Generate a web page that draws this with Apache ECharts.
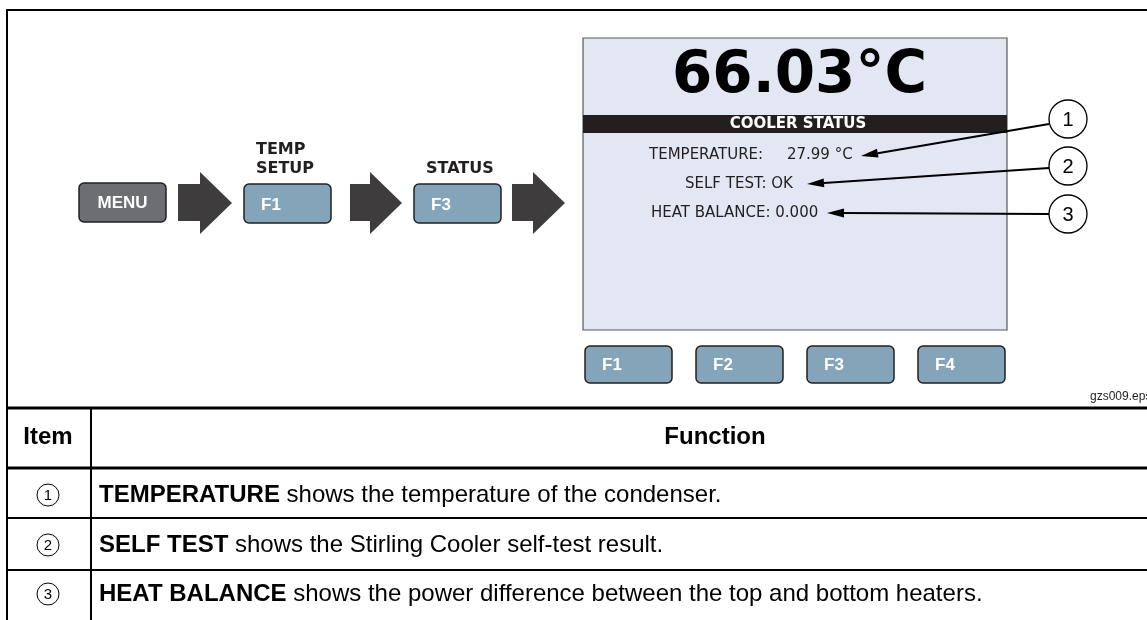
<!DOCTYPE html>
<html>
<head>
<meta charset="utf-8">
<script src="https://cdn.jsdelivr.net/npm/echarts@6/dist/echarts.min.js"></script>
<style>html,body{margin:0;padding:0;background:#fff}#c{width:1147px;height:620px}</style>
</head>
<body>
<div id="c"></div>
<script>
// ---- content (text data) ----
const stepLabels = ['MENU', 'F1', 'F3'];
const stepCaptions = [[], ['TEMP', 'SETUP'], ['STATUS']];
const softKeys = ['F1', 'F2', 'F3', 'F4'];
const displayReading = '66.03°C';
const displayTitle = 'COOLER STATUS';
const displayLines = ['TEMPERATURE:     27.99 °C', 'SELF TEST: OK', 'HEAT BALANCE: 0.000'];
const calloutNumbers = ['1', '2', '3'];
const tableHeaders = ['Item', 'Function'];
const itemKeys = ['TEMPERATURE', 'SELF TEST', 'HEAT BALANCE'];
const itemDescriptions = [
  ' shows the temperature of the condenser.',
  ' shows the Stirling Cooler self-test result.',
  ' shows the power difference between the top and bottom heaters.'
];
const figureId = 'gzs009.eps';

// ---- layout & style ----
const INK = '#231f20';
const ARIAL = '"Liberation Sans", Arial, sans-serif';
const VERD = '"DejaVu Sans", Verdana, sans-serif';
const KEY_FILL = '#84a5b9';
const MENU_FILL = '#6d6e71';
const ARROW_FILL = '#3e3c3d';

const g = [];

// frame
g.push({type:'polyline', shape:{points:[[7,620],[7,10],[1147,10]]}, style:{stroke:'#000', lineWidth:2, fill:null}});
g.push({type:'line', shape:{x1:7,y1:408,x2:1147,y2:408}, style:{stroke:'#000', lineWidth:3}});
g.push({type:'line', shape:{x1:7,y1:468,x2:1147,y2:468}, style:{stroke:'#000', lineWidth:3}});
[518, 570].forEach(y => g.push({type:'line', shape:{x1:7,y1:y,x2:1147,y2:y}, style:{stroke:'#000', lineWidth:2}}));
g.push({type:'line', shape:{x1:91,y1:408,x2:91,y2:620}, style:{stroke:'#000', lineWidth:2}});

// step buttons + arrows
const stepX = [79, 244, 414];
const arrowX = [[178,200,232],[350,370,402],[512,533,565]];
stepLabels.forEach((lab, i) => {
  const x = stepX[i];
  const isMenu = i === 0;
  g.push({type:'rect', shape:{x:x, y:isMenu?183:184, width:87, height:39, r:5},
    style:{fill:isMenu?MENU_FILL:KEY_FILL, stroke:INK, lineWidth:1.5}});
  g.push({type:'text', style:{text:lab, x:isMenu?x+43.5:x+17, y:isMenu?203:205,
    align:isMenu?'center':'left', verticalAlign:'middle', fill:'#fff', font:'bold 17px ' + ARIAL}});
  const caps = stepCaptions[i];
  caps.forEach((c, k) => {
    const yy = 169 - (caps.length - 1 - k) * 19;
    g.push({type:'text', style:{text:c, x:x+12, y:yy, align:'left', verticalAlign:'middle',
      fill:INK, font:'bold 16px ' + VERD}});
  });
  const [a0, a1, tip] = arrowX[i];
  g.push({type:'polygon', shape:{points:[[a0,184],[a1,184],[a1,172],[tip,203],[a1,234],[a1,221],[a0,221]]},
    style:{fill:ARROW_FILL}});
});

// display screen
g.push({type:'rect', shape:{x:583, y:38, width:424, height:292}, style:{fill:'#e3e6f3', stroke:'#58595b', lineWidth:1.2}});
g.push({type:'text', style:{text:displayReading, x:672, y:77, align:'left', verticalAlign:'middle', fill:'#000', font:'bold 58px ' + VERD}});
g.push({type:'rect', shape:{x:583, y:115, width:424, height:18}, style:{fill:INK}});
g.push({type:'text', style:{text:displayTitle, x:798, y:124.5, align:'center', verticalAlign:'middle', fill:'#fff', font:'bold 15px ' + VERD}});
const lineX = [649, 685, 651];
const lineY = [155, 184, 213];
displayLines.forEach((t, i) => {
  g.push({type:'text', style:{text:t, x:lineX[i], y:lineY[i], align:'left', verticalAlign:'middle', fill:INK, font:'15px ' + VERD}});
});

// callouts
const circleY = [119, 166, 214];
const tips = [[861,156],[807,184],[827,213]];
const starts = [[1049,124],[1049,168],[1049,214]];
calloutNumbers.forEach((n, i) => {
  const [sx, sy] = starts[i];
  const [tx, ty] = tips[i];
  const dx = sx - tx, dy = sy - ty, L = Math.hypot(dx, dy);
  const ux = dx / L, uy = dy / L;
  const hl = 17, hw = 4.5;
  const bx = tx + ux * hl, by = ty + uy * hl;
  g.push({type:'line', shape:{x1:sx, y1:sy, x2:bx, y2:by}, style:{stroke:'#000', lineWidth:2}});
  g.push({type:'polygon', shape:{points:[[tx,ty],[bx - uy*hw, by + ux*hw],[bx + uy*hw, by - ux*hw]]}, style:{fill:'#000'}});
  g.push({type:'circle', shape:{cx:1068, cy:circleY[i], r:19}, style:{fill:'#fff', stroke:'#000', lineWidth:1.3}});
  g.push({type:'text', style:{text:n, x:1068, y:circleY[i]+1, align:'center', verticalAlign:'middle', fill:'#000', font:'20px ' + ARIAL}});
});

// soft keys
softKeys.forEach((k, i) => {
  const x = 585 + i * 111;
  g.push({type:'rect', shape:{x:x, y:346, width:87, height:37, r:5}, style:{fill:KEY_FILL, stroke:INK, lineWidth:1.5}});
  g.push({type:'text', style:{text:k, x:x+17, y:365, align:'left', verticalAlign:'middle', fill:'#fff', font:'bold 17px ' + ARIAL}});
});

g.push({type:'text', style:{text:figureId, x:1090, y:397, align:'left', verticalAlign:'middle', fill:INK, font:'12px ' + ARIAL}});

// table
g.push({type:'text', style:{text:tableHeaders[0], x:48, y:437, align:'center', verticalAlign:'middle', fill:'#000', font:'bold 24px ' + ARIAL}});
g.push({type:'text', style:{text:tableHeaders[1], x:715, y:437, align:'center', verticalAlign:'middle', fill:'#000', font:'bold 24px ' + ARIAL}});
const rowY = [495, 545, 594];
itemKeys.forEach((k, i) => {
  g.push({type:'circle', shape:{cx:48, cy:rowY[i], r:11}, style:{fill:'#fff', stroke:'#000', lineWidth:1}});
  g.push({type:'text', style:{text:calloutNumbers[i], x:48, y:rowY[i]+1, align:'center', verticalAlign:'middle', fill:'#000', font:'15px ' + ARIAL}});
  g.push({type:'text', style:{
    text:'{b|' + k + '}{r|' + itemDescriptions[i] + '}', x:99, y:rowY[i], align:'left', verticalAlign:'middle',
    rich:{b:{font:'bold 24px ' + ARIAL, fill:'#000'}, r:{font:'24px ' + ARIAL, fill:'#000'}}
  }});
});

const chart = echarts.init(document.getElementById('c'), null, {renderer:'canvas'});
chart.setOption({backgroundColor:'#fff', animation:false, graphic:{elements:g}});
</script>
</body>
</html>
